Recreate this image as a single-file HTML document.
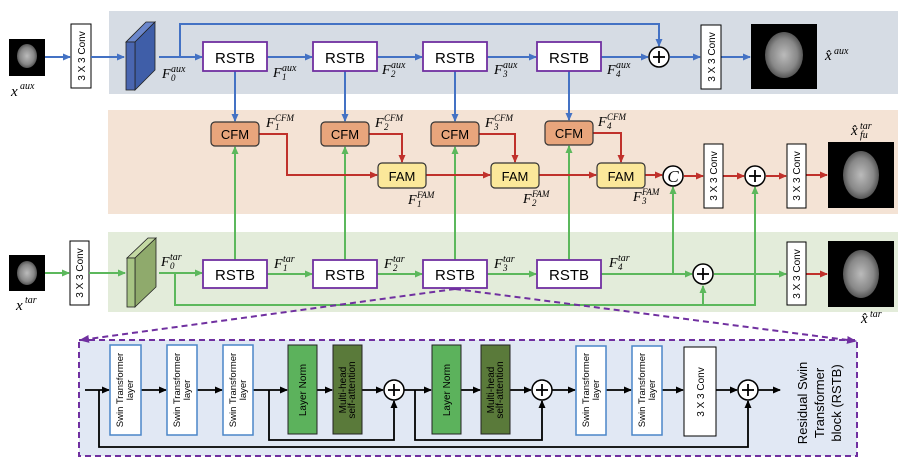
<!DOCTYPE html>
<html><head><meta charset="utf-8"><style>
html,body{margin:0;padding:0;background:#fff;}
svg{display:block;}
.t{font-family:"Liberation Sans",sans-serif;}
.m{font-family:"Liberation Serif",serif;font-style:italic;}
</style></head><body>
<svg width="907" height="476" viewBox="0 0 907 476" xmlns="http://www.w3.org/2000/svg">
<defs>
<marker id="ab" markerWidth="8" markerHeight="8" refX="7" refY="4" orient="auto" markerUnits="userSpaceOnUse"><path d="M0,0.5 L8,4 L0,7.5 Z" fill="#4472c4"/></marker>
<marker id="ag" markerWidth="8" markerHeight="8" refX="7" refY="4" orient="auto" markerUnits="userSpaceOnUse"><path d="M0,0.5 L8,4 L0,7.5 Z" fill="#5cb85c"/></marker>
<marker id="ar" markerWidth="8" markerHeight="8" refX="7" refY="4" orient="auto" markerUnits="userSpaceOnUse"><path d="M0,0.5 L8,4 L0,7.5 Z" fill="#c0312b"/></marker>
<marker id="ak" markerWidth="8" markerHeight="8" refX="7" refY="4" orient="auto" markerUnits="userSpaceOnUse"><path d="M0,0.5 L8,4 L0,7.5 Z" fill="#000"/></marker>
<marker id="ap" markerWidth="10" markerHeight="10" refX="8" refY="5" orient="auto" markerUnits="userSpaceOnUse"><path d="M0,1 L10,5 L0,9 Z" fill="#7030a0"/></marker>
<radialGradient id="br" cx="50%" cy="50%" r="50%"><stop offset="0" stop-color="#bbb"/><stop offset="0.7" stop-color="#888"/><stop offset="1" stop-color="#555"/></radialGradient>
</defs>

<!-- bands -->
<rect x="109" y="11" width="789" height="83" fill="#d6dce4"/>
<rect x="108" y="110" width="790" height="104" fill="#f4e3d5"/>
<rect x="108" y="232" width="790" height="80" fill="#e3ecda"/>

<!-- input images -->
<rect x="9" y="39" width="36" height="37" fill="#000"/><ellipse cx="27" cy="56" rx="10" ry="12" fill="url(#br)"/>
<rect x="9" y="255" width="36" height="36" fill="#000"/><ellipse cx="27" cy="273" rx="10" ry="12" fill="url(#br)"/>
<text class="m" x="11" y="96" font-size="15">x</text><text class="m" x="20" y="89" font-size="10">aux</text>
<text class="m" x="16" y="310" font-size="15">x</text><text class="m" x="25" y="303" font-size="10">tar</text>

<!-- conv boxes top-left -->
<rect x="71" y="24" width="20" height="64" fill="#fff" stroke="#000"/>
<text class="t" font-size="10" transform="translate(85,56) rotate(-90)" text-anchor="middle">3 X 3 Conv</text>
<rect x="70" y="241" width="19" height="64" fill="#fff" stroke="#000"/>
<text class="t" font-size="10" transform="translate(83,273) rotate(-90)" text-anchor="middle">3 X 3 Conv</text>

<!-- blue block -->
<polygon points="126,42 135,42 155,22 146,22" fill="#6b87cc" stroke="#222" stroke-width="0.8"/>
<polygon points="135,42 155,22 155,70 135,90" fill="#3f5ea8" stroke="#222" stroke-width="0.8"/>
<rect x="126" y="42" width="9" height="48" fill="#4a66b0" stroke="#222" stroke-width="0.8"/>
<!-- green block -->
<polygon points="127,258 135,258 156,238 148,238" fill="#c3d9a3" stroke="#222" stroke-width="0.8"/>
<polygon points="135,258 156,238 156,287 135,307" fill="#8faa6c" stroke="#222" stroke-width="0.8"/>
<rect x="127" y="258" width="8" height="49" fill="#a8c585" stroke="#222" stroke-width="0.8"/>

<!-- blue lines -->
<g stroke="#4472c4" stroke-width="2" fill="none">
<line x1="45" y1="57" x2="70" y2="57" marker-end="url(#ab)"/>
<line x1="91" y1="57" x2="124" y2="57" marker-end="url(#ab)"/>
<line x1="159" y1="57" x2="202" y2="57" marker-end="url(#ab)"/>
<polyline points="180,57 180,24 659,24 659,46" marker-end="url(#ab)"/>
<line x1="267" y1="57" x2="312" y2="57" marker-end="url(#ab)"/>
<line x1="377" y1="57" x2="422" y2="57" marker-end="url(#ab)"/>
<line x1="487" y1="57" x2="536" y2="57" marker-end="url(#ab)"/>
<line x1="601" y1="57" x2="648" y2="57" marker-end="url(#ab)"/>
<line x1="670" y1="57" x2="700" y2="57" marker-end="url(#ab)"/>
<line x1="721" y1="57" x2="750" y2="57" marker-end="url(#ab)"/>
<line x1="235" y1="71" x2="235" y2="121" marker-end="url(#ab)"/>
<line x1="345" y1="71" x2="345" y2="121" marker-end="url(#ab)"/>
<line x1="455" y1="71" x2="455" y2="121" marker-end="url(#ab)"/>
<line x1="569" y1="71" x2="569" y2="120" marker-end="url(#ab)"/>
</g>

<!-- green lines -->
<g stroke="#5cb85c" stroke-width="2" fill="none">
<line x1="45" y1="273" x2="69" y2="273" marker-end="url(#ag)"/>
<line x1="89" y1="273" x2="125" y2="273" marker-end="url(#ag)"/>
<line x1="159" y1="273" x2="202" y2="273" marker-end="url(#ag)"/>
<polyline points="175,273 175,305 755,305 755,187" marker-end="url(#ag)"/>
<line x1="703" y1="305" x2="703" y2="286" marker-end="url(#ag)"/>
<line x1="267" y1="274" x2="312" y2="274" marker-end="url(#ag)"/>
<line x1="377" y1="274" x2="422" y2="274" marker-end="url(#ag)"/>
<line x1="487" y1="274" x2="536" y2="274" marker-end="url(#ag)"/>
<line x1="601" y1="274" x2="692" y2="274" marker-end="url(#ag)"/>
<polyline points="673,274 673,187" marker-end="url(#ag)"/>
<line x1="714" y1="274" x2="786" y2="274" marker-end="url(#ag)"/>
<line x1="235" y1="260" x2="235" y2="147" marker-end="url(#ag)"/>
<line x1="345" y1="260" x2="345" y2="147" marker-end="url(#ag)"/>
<line x1="455" y1="260" x2="455" y2="147" marker-end="url(#ag)"/>
<line x1="569" y1="260" x2="569" y2="146" marker-end="url(#ag)"/>
</g>

<!-- red lines -->
<g stroke="#c0312b" stroke-width="2" fill="none">
<polyline points="259,134 287,134 287,175 377,175" marker-end="url(#ar)"/>
<polyline points="369,134 402,134 402,162" marker-end="url(#ar)"/>
<polyline points="479,134 515,134 515,162" marker-end="url(#ar)"/>
<polyline points="593,133 621,133 621,162" marker-end="url(#ar)"/>
<line x1="426" y1="175" x2="490" y2="175" marker-end="url(#ar)"/>
<line x1="539" y1="175" x2="596" y2="175" marker-end="url(#ar)"/>
<line x1="645" y1="175" x2="662" y2="175" marker-end="url(#ar)"/>
<line x1="684" y1="176" x2="703" y2="176" marker-end="url(#ar)"/>
<line x1="723" y1="176" x2="744" y2="176" marker-end="url(#ar)"/>
<line x1="766" y1="176" x2="786" y2="176" marker-end="url(#ar)"/>
<line x1="806" y1="175" x2="827" y2="175" marker-end="url(#ar)"/>
<line x1="806" y1="274" x2="827" y2="274" marker-end="url(#ar)"/>
</g>

<!-- RSTB boxes -->
<g fill="#fff" stroke="#7030a0" stroke-width="1.8">
<rect x="203" y="42" width="64" height="29"/><rect x="313" y="42" width="64" height="29"/>
<rect x="423" y="42" width="64" height="29"/><rect x="537" y="42" width="64" height="29"/>
<rect x="203" y="260" width="64" height="28"/><rect x="313" y="260" width="64" height="28"/>
<rect x="423" y="260" width="64" height="28"/><rect x="537" y="260" width="64" height="28"/>
</g>
<g class="t" font-size="15" text-anchor="middle">
<text x="235" y="63">RSTB</text><text x="345" y="63">RSTB</text><text x="455" y="63">RSTB</text><text x="569" y="63">RSTB</text>
<text x="235" y="280">RSTB</text><text x="345" y="280">RSTB</text><text x="455" y="280">RSTB</text><text x="569" y="280">RSTB</text>
</g>

<!-- CFM / FAM -->
<g fill="#e8a57c" stroke="#333" stroke-width="1.2">
<rect x="211" y="122" width="48" height="24" rx="4"/><rect x="321" y="122" width="48" height="24" rx="4"/>
<rect x="431" y="122" width="48" height="24" rx="4"/><rect x="545" y="121" width="48" height="24" rx="4"/>
</g>
<g fill="#fbe89a" stroke="#333" stroke-width="1.2">
<rect x="378" y="163" width="48" height="25" rx="4"/><rect x="491" y="163" width="48" height="25" rx="4"/><rect x="597" y="163" width="48" height="25" rx="4"/>
</g>
<g class="t" font-size="13" text-anchor="middle">
<text x="235" y="139">CFM</text><text x="345" y="139">CFM</text><text x="455" y="139">CFM</text><text x="569" y="138">CFM</text>
<text x="402" y="181">FAM</text><text x="515" y="181">FAM</text><text x="621" y="181">FAM</text>
</g>

<!-- circles -->
<g fill="#fff" stroke="#000" stroke-width="1.5">
<circle cx="659" cy="57" r="10"/><circle cx="673" cy="176" r="10"/><circle cx="755" cy="176" r="10"/><circle cx="703" cy="274" r="10"/>
</g>
<g stroke="#000" stroke-width="1.8">
<line x1="653" y1="57" x2="665" y2="57"/><line x1="659" y1="51" x2="659" y2="63"/>
<line x1="749" y1="176" x2="761" y2="176"/><line x1="755" y1="170" x2="755" y2="182"/>
<line x1="697" y1="274" x2="709" y2="274"/><line x1="703" y1="268" x2="703" y2="280"/>
</g>
<text class="m" x="673" y="182" font-size="17" text-anchor="middle">C</text>

<!-- right convs -->
<g fill="#fff" stroke="#000"><rect x="701" y="25" width="20" height="64"/><rect x="704" y="144" width="19" height="64"/><rect x="787" y="144" width="19" height="64"/><rect x="787" y="242" width="19" height="63"/></g>
<g class="t" font-size="10" text-anchor="middle">
<text transform="translate(715,57) rotate(-90)">3 X 3 Conv</text>
<text transform="translate(717,176) rotate(-90)">3 X 3 Conv</text>
<text transform="translate(800,176) rotate(-90)">3 X 3 Conv</text>
<text transform="translate(800,274) rotate(-90)">3 X 3 Conv</text>
</g>

<!-- output images -->
<rect x="751" y="24" width="66" height="65" fill="#000"/><ellipse cx="784" cy="55" rx="19" ry="23" fill="url(#br)"/>
<rect x="828" y="142" width="66" height="66" fill="#000"/><ellipse cx="861" cy="175" rx="18" ry="24" fill="url(#br)"/>
<rect x="828" y="241" width="66" height="66" fill="#000"/><ellipse cx="861" cy="274" rx="18" ry="24" fill="url(#br)"/>
<text class="m" x="825" y="60" font-size="15">x̂</text><text class="m" x="834" y="54" font-size="10">aux</text>
<text class="m" x="851" y="135" font-size="15">x̂</text><text class="m" x="860" y="129" font-size="10">tar</text><text class="m" x="860" y="138" font-size="10">fu</text>
<text class="m" x="861" y="323" font-size="15">x̂</text><text class="m" x="870" y="317" font-size="10">tar</text>

<!-- F labels -->
<g class="m">
<text x="162" y="78" font-size="14">F</text><text x="171" y="72" font-size="10">aux</text><text x="171" y="81" font-size="9">0</text>
<text x="273" y="77" font-size="14">F</text><text x="282" y="71" font-size="10">aux</text><text x="282" y="80" font-size="9">1</text>
<text x="382" y="74" font-size="14">F</text><text x="391" y="68" font-size="10">aux</text><text x="391" y="77" font-size="9">2</text>
<text x="494" y="74" font-size="14">F</text><text x="503" y="68" font-size="10">aux</text><text x="503" y="77" font-size="9">3</text>
<text x="607" y="74" font-size="14">F</text><text x="616" y="68" font-size="10">aux</text><text x="616" y="77" font-size="9">4</text>
<text x="266" y="127" font-size="14">F</text><text x="275" y="121" font-size="9">CFM</text><text x="275" y="130" font-size="9">1</text>
<text x="375" y="127" font-size="14">F</text><text x="384" y="121" font-size="9">CFM</text><text x="384" y="130" font-size="9">2</text>
<text x="485" y="127" font-size="14">F</text><text x="494" y="121" font-size="9">CFM</text><text x="494" y="130" font-size="9">3</text>
<text x="598" y="126" font-size="14">F</text><text x="607" y="120" font-size="9">CFM</text><text x="607" y="129" font-size="9">4</text>
<text x="408" y="204" font-size="14">F</text><text x="417" y="198" font-size="9">FAM</text><text x="417" y="207" font-size="9">1</text>
<text x="523" y="203" font-size="14">F</text><text x="532" y="197" font-size="9">FAM</text><text x="532" y="206" font-size="9">2</text>
<text x="633" y="201" font-size="14">F</text><text x="642" y="195" font-size="9">FAM</text><text x="642" y="204" font-size="9">3</text>
<text x="161" y="266" font-size="14">F</text><text x="170" y="260" font-size="10">tar</text><text x="170" y="269" font-size="9">0</text>
<text x="274" y="268" font-size="14">F</text><text x="283" y="262" font-size="10">tar</text><text x="283" y="271" font-size="9">1</text>
<text x="384" y="268" font-size="14">F</text><text x="393" y="262" font-size="10">tar</text><text x="393" y="271" font-size="9">2</text>
<text x="494" y="268" font-size="14">F</text><text x="503" y="262" font-size="10">tar</text><text x="503" y="271" font-size="9">3</text>
<text x="609" y="267" font-size="14">F</text><text x="618" y="261" font-size="10">tar</text><text x="618" y="270" font-size="9">4</text>
</g>

<!-- bottom RSTB detail -->
<rect x="79" y="340" width="778" height="116" fill="#e1e8f4" stroke="#7030a0" stroke-width="2" stroke-dasharray="6,4"/>
<line x1="455" y1="289" x2="81" y2="340" stroke="#7030a0" stroke-width="2" stroke-dasharray="6,4" marker-end="url(#ap)"/>
<line x1="455" y1="289" x2="855" y2="341" stroke="#7030a0" stroke-width="2" stroke-dasharray="6,4" marker-end="url(#ap)"/>

<g stroke="#000" stroke-width="1.8" fill="none">
<line x1="85" y1="390" x2="109" y2="390" marker-end="url(#ak)"/>
<line x1="141" y1="390" x2="166" y2="390" marker-end="url(#ak)"/>
<line x1="197" y1="390" x2="222" y2="390" marker-end="url(#ak)"/>
<line x1="253" y1="390" x2="287" y2="390" marker-end="url(#ak)"/>
<line x1="317" y1="390" x2="332" y2="390" marker-end="url(#ak)"/>
<line x1="362" y1="390" x2="383" y2="390" marker-end="url(#ak)"/>
<line x1="404" y1="390" x2="431" y2="390" marker-end="url(#ak)"/>
<line x1="461" y1="390" x2="480" y2="390" marker-end="url(#ak)"/>
<line x1="510" y1="390" x2="531" y2="390" marker-end="url(#ak)"/>
<line x1="552" y1="390" x2="575" y2="390" marker-end="url(#ak)"/>
<line x1="606" y1="390" x2="631" y2="390" marker-end="url(#ak)"/>
<line x1="662" y1="390" x2="683" y2="390" marker-end="url(#ak)"/>
<line x1="716" y1="390" x2="737" y2="390" marker-end="url(#ak)"/>
<line x1="758" y1="390" x2="780" y2="390" marker-end="url(#ak)"/>
<polyline points="269,390 269,440 394,440 394,401" marker-end="url(#ak)"/>
<polyline points="415,390 415,440 542,440 542,401" marker-end="url(#ak)"/>
<polyline points="99,390 99,447 748,447 748,401" marker-end="url(#ak)"/>
</g>
<g fill="#fff" stroke="#4a86c8" stroke-width="1.5">
<rect x="110" y="345" width="31" height="90"/><rect x="167" y="345" width="30" height="90"/><rect x="223" y="345" width="30" height="90"/>
<rect x="576" y="346" width="30" height="89"/><rect x="632" y="346" width="30" height="89"/>
</g>
<rect x="684" y="347" width="32" height="89" fill="#fff" stroke="#000"/>
<g fill="#5cb25c" stroke="#222"><rect x="288" y="345" width="29" height="89"/><rect x="432" y="345" width="29" height="89"/></g>
<g fill="#5a7a3a" stroke="#222"><rect x="333" y="345" width="29" height="89"/><rect x="481" y="345" width="29" height="89"/></g>
<g fill="#fff" stroke="#000" stroke-width="1.5"><circle cx="394" cy="390" r="10"/><circle cx="542" cy="390" r="10"/><circle cx="748" cy="390" r="10"/></g>
<g stroke="#000" stroke-width="1.8">
<line x1="388" y1="390" x2="400" y2="390"/><line x1="394" y1="384" x2="394" y2="396"/>
<line x1="536" y1="390" x2="548" y2="390"/><line x1="542" y1="384" x2="542" y2="396"/>
<line x1="742" y1="390" x2="754" y2="390"/><line x1="748" y1="384" x2="748" y2="396"/>
</g>
<g class="t" font-size="9.5" text-anchor="middle">
<text transform="translate(123,390) rotate(-90)">Swin Transformer</text><text transform="translate(133,390) rotate(-90)">layer</text>
<text transform="translate(180,390) rotate(-90)">Swin Transformer</text><text transform="translate(190,390) rotate(-90)">layer</text>
<text transform="translate(236,390) rotate(-90)">Swin Transformer</text><text transform="translate(246,390) rotate(-90)">layer</text>
<text transform="translate(589,390) rotate(-90)">Swin Transformer</text><text transform="translate(599,390) rotate(-90)">layer</text>
<text transform="translate(645,390) rotate(-90)">Swin Transformer</text><text transform="translate(655,390) rotate(-90)">layer</text>
<text transform="translate(306,390) rotate(-90)" font-size="10">Layer Norm</text>
<text transform="translate(450,390) rotate(-90)" font-size="10">Layer Norm</text>
<text transform="translate(346,390) rotate(-90)" font-size="10">Multi-head</text><text transform="translate(355,390) rotate(-90)" font-size="10">self-attention</text>
<text transform="translate(494,390) rotate(-90)" font-size="10">Multi-head</text><text transform="translate(503,390) rotate(-90)" font-size="10">self-attention</text>
<text transform="translate(704,392) rotate(-90)" font-size="10">3 X 3 Conv</text>
<text transform="translate(807,403) rotate(-90)" font-size="13">Residual Swin</text>
<text transform="translate(824,403) rotate(-90)" font-size="13">Transformer</text>
<text transform="translate(841,403) rotate(-90)" font-size="13">block (RSTB)</text>
</g>
</svg>
</body></html>
